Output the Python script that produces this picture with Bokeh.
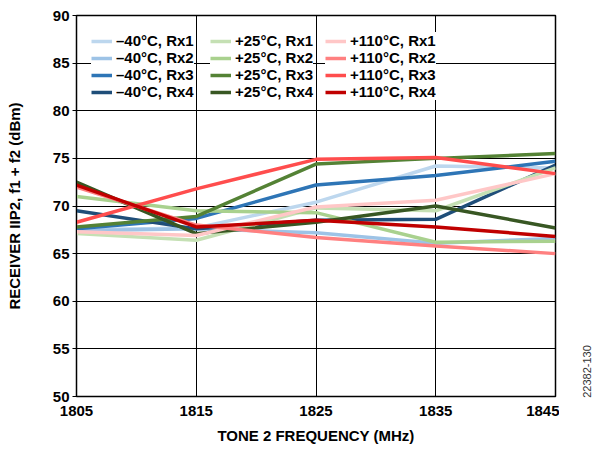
from bokeh.plotting import figure
from bokeh.layouts import row
from bokeh.models import Legend, LegendItem, Label, FixedTicker, Range1d
from bokeh.embed import file_html
from bokeh.resources import INLINE

freq = [1805, 1815, 1825, 1835, 1845]

labels = ["–40°C, Rx1", "–40°C, Rx2", "–40°C, Rx3", "–40°C, Rx4",
          "+25°C, Rx1", "+25°C, Rx2", "+25°C, Rx3", "+25°C, Rx4",
          "+110°C, Rx1", "+110°C, Rx2", "+110°C, Rx3", "+110°C, Rx4"]

m40_rx1 = [67.5, 67.7, 70.4, 74.2, 74.0]
m40_rx2 = [67.4, 67.6, 67.2, 66.1, 66.6]
m40_rx3 = [67.6, 68.7, 72.2, 73.2, 74.7]
m40_rx4 = [69.5, 67.6, 68.5, 68.6, 74.3]
p25_rx1 = [67.1, 66.4, 69.8, 69.5, 74.0]
p25_rx2 = [71.0, 69.5, 69.3, 66.2, 66.3]
p25_rx3 = [67.8, 68.9, 74.4, 75.0, 75.5]
p25_rx4 = [72.5, 67.1, 68.3, 70.0, 67.7]
p110_rx1 = [67.3, 66.9, 69.9, 70.6, 73.4]
p110_rx2 = [72.0, 68.0, 66.7, 65.8, 65.0]
p110_rx3 = [68.3, 71.8, 74.9, 75.1, 73.4]
p110_rx4 = [72.2, 67.8, 68.5, 67.8, 66.8]

series = [m40_rx1, m40_rx2, m40_rx3, m40_rx4,
          p25_rx1, p25_rx2, p25_rx3, p25_rx4,
          p110_rx1, p110_rx2, p110_rx3, p110_rx4]

colors = ["#bdd7ee", "#9dc3e6", "#2e75b6", "#1f4e79",
          "#c5e0b4", "#a9d18e", "#548235", "#385723",
          "#ffc7c7", "#ff8080", "#ff4d4d", "#c00000"]

x_ticks = [1805, 1815, 1825, 1835, 1845]
y_ticks = [50, 55, 60, 65, 70, 75, 80, 85, 90]
fig_id = "22382-130"

FONT = "Liberation Sans"

p = figure(frame_width=479, frame_height=381,
           x_range=Range1d(1805, 1845), y_range=Range1d(50, 90),
           output_backend="svg", toolbar_location=None,
           min_border_left=76, min_border_right=4,
           min_border_top=15, min_border_bottom=46)

p.outline_line_color = "black"
p.outline_line_width = 1.5

renderers = []
for ys, c in zip(series, colors):
    r = p.line(freq, ys, line_color=c, line_width=3.5)
    renderers.append(r)

for ax in (p.xaxis[0], p.yaxis[0]):
    ax.axis_line_color = "black"
    ax.major_label_text_font = FONT
    ax.major_label_text_font_style = "bold"
    ax.major_label_text_font_size = "15px"
    ax.major_label_text_color = "black"
    ax.axis_label_text_font = FONT
    ax.axis_label_text_font_style = "bold"
    ax.axis_label_text_font_size = "15px"
    ax.axis_label_text_color = "black"
    ax.minor_tick_line_color = None
    ax.major_tick_in = 0

p.xaxis.ticker = FixedTicker(ticks=x_ticks)
p.yaxis.ticker = FixedTicker(ticks=y_ticks)
p.xaxis.major_tick_out = 0
p.yaxis.major_tick_out = 4
p.xaxis.major_label_standoff = 9
p.yaxis.major_label_standoff = 3
p.xaxis.axis_label = "TONE 2 FREQUENCY (MHz)"
p.yaxis.axis_label = "RECEIVER IIP2, f1 + f2 (dBm)"
p.xaxis.axis_label_standoff = 8
p.yaxis.axis_label_standoff = 27

p.xgrid.ticker = FixedTicker(ticks=x_ticks)
p.ygrid.ticker = FixedTicker(ticks=y_ticks)
p.xgrid.grid_line_color = "black"
p.ygrid.grid_line_color = "black"
p.xgrid.grid_line_width = 1
p.ygrid.grid_line_width = 1

xs_loc = [15, 134, 249]
for col in range(3):
    items = [LegendItem(label=labels[col * 4 + k], renderers=[renderers[col * 4 + k]])
             for k in range(4)]
    leg = Legend(items=items, location=(xs_loc[col], 296),
                 label_text_font=FONT, label_text_font_style="bold",
                 label_text_font_size="15px", label_text_color="black",
                 glyph_width=21, glyph_height=14, label_height=14,
                 label_standoff=4, spacing=-1, padding=8, margin=0,
                 border_line_color=None, background_fill_color="white",
                 background_fill_alpha=1.0)
    p.add_layout(leg, "center")

# narrow side panel carrying the vertical figure id (reads bottom-to-top)
side = figure(width=40, height=449, x_range=Range1d(0, 40), y_range=Range1d(0, 449),
              output_backend="svg", toolbar_location=None,
              x_axis_location=None, y_axis_location=None,
              min_border=0, outline_line_color=None)
side.grid.visible = False
side.add_layout(Label(x=31, y=2, x_offset=-4, text=fig_id,
                      angle=90, angle_units="deg",
                      text_align="left", text_baseline="middle",
                      text_font=FONT, text_font_size="11px",
                      text_color="#333333"))

layout = row(p, side, spacing=0)
open("out.html", "w").write(file_html(layout, INLINE))
